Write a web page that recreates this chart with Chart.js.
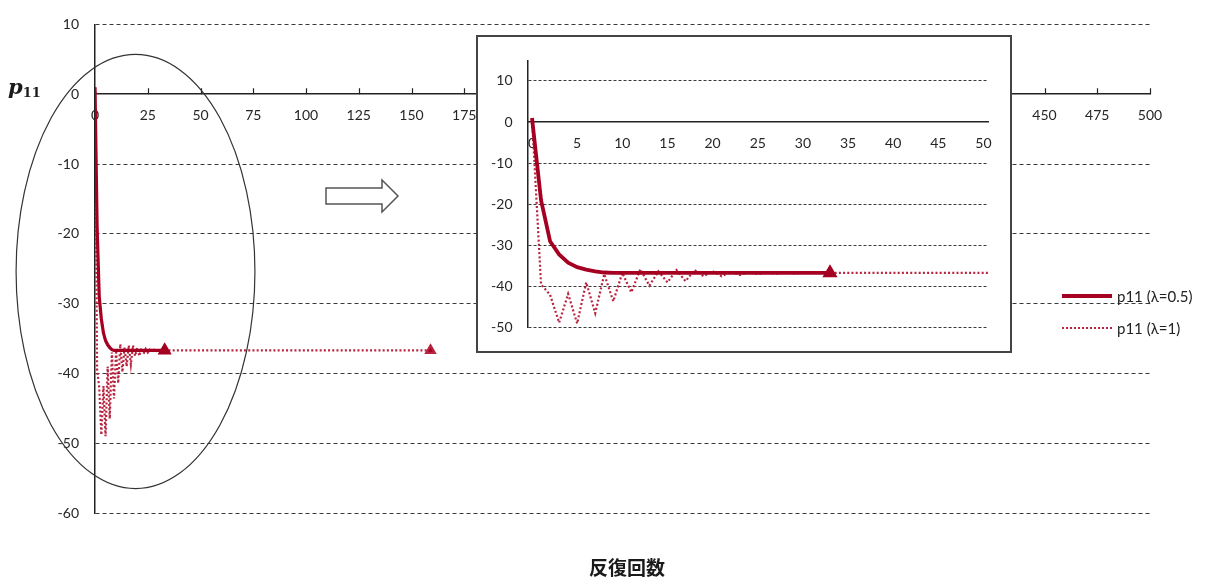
<!DOCTYPE html>
<html>
<head>
<meta charset="utf-8">
<script src="https://cdn.jsdelivr.net/npm/chart.js@4.4.1/dist/chart.umd.min.js"></script>
<style>
  html, body { margin: 0; padding: 0; background: #fff; }
  #wrap { position: relative; width: 1206px; height: 579px; overflow: hidden; }
  #main { position: absolute; left: 0; top: 0; }
  #insetBox { position: absolute; left: 476px; top: 35px; width: 532px; height: 314px;
              border: 2px solid #444; background: #fff; }
  #inset { position: absolute; left: 0; top: 0; }
  #ytitle { position: absolute; left: 8px; top: 74px; color: #1a1a1a;
            font: italic bold 21px 'DejaVu Serif', serif; white-space: nowrap; }
  #ytitle sub { font: bold 13px 'DejaVu Serif', serif; vertical-align: -3px; }
  #xtitle { position: absolute; left: 527px; width: 200px; top: 553px; text-align: center;
            font: bold 19px 'Noto Sans CJK JP', sans-serif; color: #1a1a1a; }
  .leg { position: absolute; left: 1062px; height: 18px; font: 15px Lato, sans-serif; color: #222;
         white-space: nowrap; }
  .leg .sw { position: absolute; left: 0; width: 50px; }
  .leg span { position: absolute; left: 55px; top: 0; line-height: 18px; }
</style>
</head>
<body>
<div id="wrap">
  <canvas id="main" width="1206" height="579"></canvas>
  <div id="ytitle">p<sub>11</sub></div>
  <div id="xtitle">反復回数</div>
  <div class="leg" style="top:287px"><div class="sw" style="top:7px;height:4px;background:#A50021"></div><span>p11 (λ=0.5)</span></div>
  <div class="leg" style="top:319px"><div class="sw" style="top:8px;height:0;border-top:2px dotted #B8243F"></div><span>p11 (λ=1)</span></div>
  <div id="insetBox"><canvas id="inset" width="532" height="314"></canvas></div>
</div>
<script>
// iteration numbers and p11 values, damping factor 0.5
const iterHalf = [0, 1, 2, 3, 4, 5, 6, 7, 8, 9, 10, 11, 12, 13, 14, 15, 16,
                  17, 18, 19, 20, 21, 22, 23, 24, 25, 26, 27, 28, 29, 30, 31, 32, 33];
const p11Half = [1, -19, -29, -32.2, -34.2, -35.3, -35.9, -36.3, -36.6, -36.7, -36.7, -36.7,
                 -36.7, -36.7, -36.7, -36.7, -36.7, -36.7, -36.7, -36.7, -36.7, -36.7, -36.7,
                 -36.7, -36.7, -36.7, -36.7, -36.7, -36.7, -36.7, -36.7, -36.7, -36.7, -36.7];

// iteration numbers and p11 values, no damping (λ=1); settled from iteration 30 to the last one, 159
const iterOne = [0, 1, 2, 3, 4, 5, 6, 7, 8, 9, 10, 11, 12, 13, 14, 15, 16,
                 17, 18, 19, 20, 21, 22, 23, 24, 25, 26, 27, 28, 29, 30, 159];
const p11One = [1, -39.5, -42, -48.8, -41.8, -49, -39, -46.5, -37, -43.6, -36.7, -41.4,
                -35.8, -39.8, -36.3, -39, -36, -38.7, -36, -37.5, -36.3, -37.5, -36.4,
                -37.2, -36.5, -37, -36.6, -36.9, -36.6, -36.8, -36.7, -36.7];

const mainXTicks = [0, 25, 50, 75, 100, 125, 150, 175, 200, 225, 250, 275, 300, 325, 350,
                    375, 400, 425, 450, 475, 500];
const mainYTicks = [10, 0, -10, -20, -30, -40, -50, -60];
const insetXTicks = [0, 5, 10, 15, 20, 25, 30, 35, 40, 45, 50];
const insetYTicks = [10, 0, -10, -20, -30, -40, -50];

const RED = '#A50021';
const RED_DOT = '#B8243F';
const TICK_FONT = { family: 'Lato, sans-serif', size: 14 };
const TICK_COLOR = '#262626';
const GRID_COLOR = '#3a3a3a';

const toPoints = (xs, ys) => xs.map((x, i) => ({ x: x, y: ys[i] }));
const lastOnly = n => ctx => (ctx.dataIndex === n - 1 ? 5 : 0);

function makeDatasets(halfWidth) {
  return [
    { label: 'p11 (λ=0.5)', data: toPoints(iterHalf, p11Half), borderColor: RED, backgroundColor: RED,
      borderWidth: halfWidth, pointStyle: 'triangle', pointRadius: lastOnly(iterHalf.length),
      pointHoverRadius: 0, tension: 0, fill: false, order: 0 },
    { label: 'p11 (λ=1)', data: toPoints(iterOne, p11One), borderColor: RED_DOT, backgroundColor: RED,
      borderWidth: 2.2, borderDash: [2, 2.2], pointStyle: 'triangle', pointRadius: lastOnly(iterOne.length),
      pointHoverRadius: 0, tension: 0, fill: false, order: 1 }
  ];
}

const setTicks = values => scale => { scale.ticks = values.map(v => ({ value: v })); };
const hideZeroGrid = ctx => (ctx.tick && ctx.tick.value === 0 ? 'rgba(0,0,0,0)' : GRID_COLOR);

// small tick marks standing up from the horizontal axis
const upTicks = {
  id: 'upTicks',
  beforeDatasetsDraw(chart, args, opts) {
    if (!opts.show) return;
    const { ctx, scales: { x, y } } = chart;
    const y0 = y.getPixelForValue(0);
    ctx.save();
    ctx.strokeStyle = '#222';
    ctx.lineWidth = 1.2;
    ctx.beginPath();
    mainXTicks.forEach(v => {
      const px = Math.round(x.getPixelForValue(v)) + 0.5;
      ctx.moveTo(px, y0);
      ctx.lineTo(px, y0 - 6);
    });
    ctx.stroke();
    ctx.restore();
  }
};

// ellipse around the early iterations and the arrow pointing to the enlarged view
const callout = {
  id: 'callout',
  afterDatasetsDraw(chart, args, opts) {
    if (!opts.show) return;
    const { ctx, scales: { x, y } } = chart;
    const cx = x.getPixelForValue(19.2), cy = y.getPixelForValue(-25.4);
    const rx = x.getPixelForValue(19.2 + 56.6) - cx;
    const ry = y.getPixelForValue(-25.4 - 31.1) - cy;
    ctx.save();
    ctx.strokeStyle = '#333';
    ctx.lineWidth = 1.2;
    ctx.beginPath();
    ctx.ellipse(cx, cy, rx, ry, 0, 0, Math.PI * 2);
    ctx.stroke();

    ctx.beginPath();
    ctx.moveTo(326, 188); ctx.lineTo(382, 188); ctx.lineTo(382, 180);
    ctx.lineTo(398, 196); ctx.lineTo(382, 212); ctx.lineTo(382, 204);
    ctx.lineTo(326, 204); ctx.closePath();
    ctx.fillStyle = '#fff';
    ctx.fill();
    ctx.strokeStyle = '#555';
    ctx.lineWidth = 1.5;
    ctx.stroke();
    ctx.restore();
  }
};

const common = {
  type: 'line',
  plugins: [upTicks, callout]
};

new Chart(document.getElementById('main'), {
  ...common,
  data: { datasets: makeDatasets(3.2) },
  options: {
    responsive: false,
    animation: false,
    events: [],
    layout: { padding: { top: 19.3, right: 56, bottom: 66, left: 0 } },
    plugins: { legend: { display: false }, tooltip: { enabled: false },
               upTicks: { show: true }, callout: { show: true } },
    scales: {
      x: {
        type: 'linear', min: 0, max: 500, position: { y: 0 },
        afterBuildTicks: setTicks(mainXTicks),
        grid: { drawOnChartArea: false, drawTicks: false },
        border: { color: '#222', width: 1.5 },
        ticks: { padding: 13, color: TICK_COLOR, font: TICK_FONT, maxRotation: 0, autoSkip: false }
      },
      y: {
        type: 'linear', min: -60, max: 10,
        afterBuildTicks: setTicks(mainYTicks),
        afterFit: s => { s.width = 95; },
        grid: { drawTicks: false, color: hideZeroGrid, lineWidth: 1 },
        border: { color: '#222', width: 1.5, dash: [4, 3] },
        ticks: { padding: 16, color: TICK_COLOR, font: TICK_FONT }
      }
    }
  }
});

new Chart(document.getElementById('inset'), {
  ...common,
  data: { datasets: makeDatasets(3.8) },
  options: {
    responsive: false,
    animation: false,
    events: [],
    layout: { padding: { top: 18.3, right: 22, bottom: 17.7, left: 0 } },
    plugins: { legend: { display: false }, tooltip: { enabled: false },
               upTicks: { show: false }, callout: { show: false } },
    scales: {
      x: {
        type: 'linear', min: -0.5, max: 50.5, position: { y: 0 },
        afterBuildTicks: setTicks(insetXTicks),
        grid: { drawOnChartArea: false, drawTicks: false },
        border: { color: '#222', width: 1.5 },
        ticks: { padding: 13, color: TICK_COLOR, font: TICK_FONT, maxRotation: 0, autoSkip: false }
      },
      y: {
        type: 'linear', min: -50, max: 15,
        afterBuildTicks: setTicks(insetYTicks),
        afterFit: s => { s.width = 49.5; },
        grid: { drawTicks: false, color: hideZeroGrid, lineWidth: 1 },
        border: { color: '#222', width: 1.5, dash: [3, 2] },
        ticks: { padding: 15, color: TICK_COLOR, font: TICK_FONT }
      }
    }
  }
});
</script>
</body>
</html>
